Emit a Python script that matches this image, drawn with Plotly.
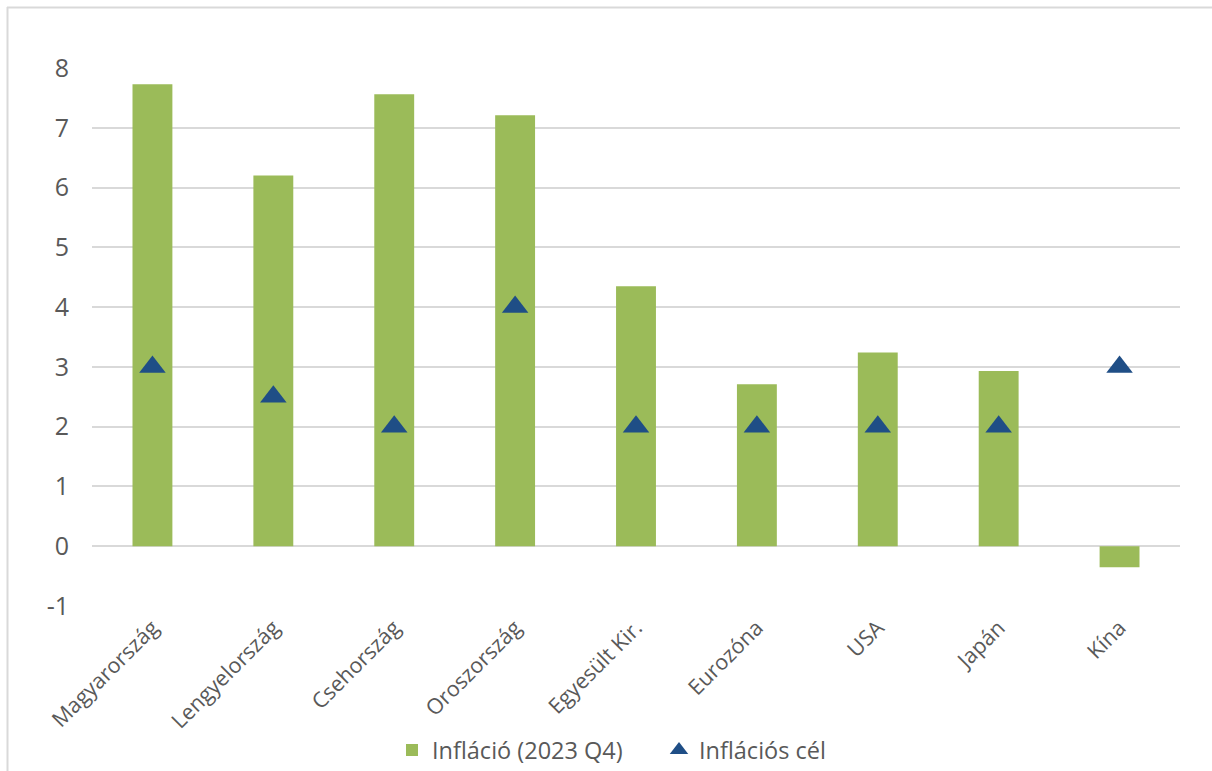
import plotly.graph_objects as go

# Országok és értékek (%)
orszagok = ["Magyarország", "Lengyelország", "Csehország", "Oroszország",
            "Egyesült Kir.", "Eurozóna", "USA", "Japán", "Kína"]
inflacio_2023q4 = [7.73, 6.20, 7.56, 7.21, 4.35, 2.71, 3.24, 2.93, -0.35]
inflacios_cel = [3, 2.5, 2, 4, 2, 2, 2, 2, 3]
y_tickek = [-1, 0, 1, 2, 3, 4, 5, 6, 7, 8]
y_tickszoveg = ["-1", "0", "1", "2", "3", "4", "5", "6", "7", "8"]

W, H = 1212, 771
L, R, T, B = 92, 32, 68, 165
pw, ph = W - L - R, H - T - B

text_col = "#595959"
font_family = "Open Sans, Noto Sans, sans-serif"

fig = go.Figure()
fig.add_trace(go.Bar(
    x=orszagok, y=inflacio_2023q4, name="Infláció (2023 Q4)",
    marker=dict(color="#9BBB59", line=dict(width=0)),
))
fig.add_trace(go.Scatter(
    x=orszagok, y=inflacios_cel, name="Inflációs cél", mode="markers",
    marker=dict(symbol="triangle-up", size=23, color="#1F4E86"),
))

# keret: felső és bal oldali vonal
def px_to_paper_x(px):
    return (px - L) / pw

def px_to_paper_y(py):
    return (H - B - py) / ph

fig.add_shape(type="line", xref="paper", yref="paper",
              x0=px_to_paper_x(7), x1=px_to_paper_x(W + 5),
              y0=px_to_paper_y(7.5), y1=px_to_paper_y(7.5),
              line=dict(color="#D9D9D9", width=2), layer="below")
fig.add_shape(type="line", xref="paper", yref="paper",
              x0=px_to_paper_x(7.5), x1=px_to_paper_x(7.5),
              y0=px_to_paper_y(7), y1=px_to_paper_y(H + 5),
              line=dict(color="#D9D9D9", width=2), layer="below")

fig.update_layout(
    width=W, height=H,
    margin=dict(l=L, r=R, t=T, b=B, autoexpand=False),
    paper_bgcolor="white", plot_bgcolor="white",
    bargap=0.67,
    font=dict(family=font_family, color=text_col),
    showlegend=True,
    legend=dict(orientation="h", x=px_to_paper_x(392), xanchor="left",
                y=-0.227, yanchor="top",
                font=dict(size=23.5, color=text_col), itemwidth=30,
                entrywidth=222, traceorder="normal"),
    xaxis=dict(tickangle=-45, tickfont=dict(size=21.5, color=text_col),
               range=[-0.5, len(orszagok) - 0.5],
               showgrid=False, showline=False, ticks="", automargin=False,
               ticklabelstandoff=4),
    yaxis=dict(range=[-1, 8], tickvals=y_tickek, ticktext=y_tickszoveg,
               tickfont=dict(size=25, color=text_col),
               showgrid=True, gridcolor="#D9D9D9", gridwidth=1.5,
               zeroline=False, showline=False, ticks="", ticklabelstandoff=22,
               automargin=False),
)

fig.write_html("out.html")
